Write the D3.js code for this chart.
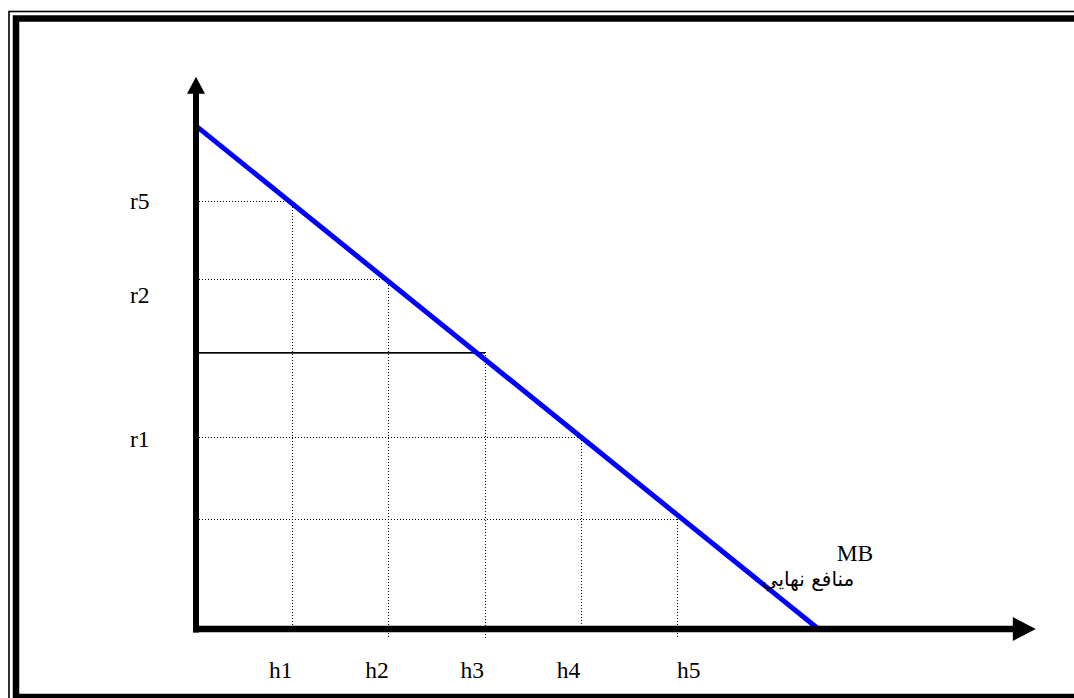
<!DOCTYPE html>
<html>
<head>
<meta charset="utf-8">
<script src="https://cdn.jsdelivr.net/npm/d3@7"></script>
<style>
  html, body { margin: 0; padding: 0; background: #fff; }
  svg { display: block; }
  .lbl { font-family: "Liberation Serif", "Times New Roman", serif; font-size: 23.5px; fill: #000; }
  .fa { font-family: "DejaVu Sans", sans-serif; font-size: 20px; fill: #000; }
</style>
</head>
<body>
<div id="chart"></div>
<script>
// quantities h1..h5 on the horizontal axis
const hLabels = ["h1", "h2", "h3", "h4", "h5"];
const hValues = [1, 2, 3, 4, 5];
const hLabelAt = [0.76, 1.76, 2.75, 3.75, 5.0];
const hTickBelow = [false, true, true, false, true];

// marginal benefit read at each h
const rLevels = [4.45, 3.64, 2.88, 2.0, 1.14];
const equilibriumIdx = 2;

// price labels on the vertical axis
const rLabels = ["r5", "r2", "r1"];
const rLabelAt = [4.45, 3.47, 1.97];

// MB line endpoints [h, r]
const mbLine = [[0, 5.23], [6.47, 0]];
const axisMax = { x: 8.73, y: 5.74 };

const W = 1074, H = 698;
const svg = d3.select("#chart").append("svg").attr("width", W).attr("height", H);

const x = d3.scaleLinear().domain([0, 5]).range([196, 677]);
const y = d3.scaleLinear().domain([0, 5]).range([629, 148]);
const px = (v) => Math.round(v) + 0.5;

// page frame (runs off right and bottom edges)
svg.append("rect").attr("x", 9).attr("y", 11.5).attr("width", 1100).attr("height", 720)
  .attr("fill", "none").attr("stroke", "#000").attr("stroke-width", 1.6);
svg.append("rect").attr("x", 16).attr("y", 18.5).attr("width", 1100).attr("height", 678.5)
  .attr("fill", "none").attr("stroke", "#000").attr("stroke-width", 6.5);

const grid = svg.append("g").attr("shape-rendering", "crispEdges");

// horizontal guides from the price axis to the MB line
grid.selectAll("line.h")
  .data(rLevels)
  .join("line")
  .attr("class", "h")
  .attr("x1", x(0)).attr("x2", (d, i) => x(hValues[i]))
  .attr("y1", (d) => px(y(d))).attr("y2", (d) => px(y(d)))
  .attr("stroke", "#000")
  .attr("stroke-width", 1)
  .attr("stroke-dasharray", (d, i) => (i === equilibriumIdx ? null : "1,2"));

grid.append("line")
  .attr("x1", x(0)).attr("x2", x(hValues[equilibriumIdx]))
  .attr("y1", px(y(rLevels[equilibriumIdx])) + 1).attr("y2", px(y(rLevels[equilibriumIdx])) + 1)
  .attr("stroke", "#555").attr("stroke-width", 1);

// vertical guides from the MB line down to the quantity axis
grid.selectAll("line.v")
  .data(hValues)
  .join("line")
  .attr("class", "v")
  .attr("x1", (d) => px(x(d))).attr("x2", (d) => px(x(d)))
  .attr("y1", (d, i) => y(rLevels[i]))
  .attr("y2", (d, i) => (hTickBelow[i] ? y(-0.1) : y(0)))
  .attr("stroke", "#000")
  .attr("stroke-width", 1)
  .attr("stroke-dasharray", "1,2");

// MB line
svg.append("path")
  .datum(mbLine)
  .attr("d", d3.line().x((d) => x(d[0])).y((d) => y(d[1])))
  .attr("stroke", "#0000ff")
  .attr("stroke-width", 5)
  .attr("fill", "none");

// axes with arrow heads
const axes = svg.append("g").attr("fill", "#000").attr("stroke", "#000");
axes.append("line")
  .attr("x1", x(0)).attr("x2", x(0)).attr("y1", y(0) + 3.5).attr("y2", y(axisMax.y) + 16)
  .attr("stroke-width", 6);
axes.append("path")
  .attr("stroke", "none")
  .attr("d", `M${x(0)},${y(axisMax.y)} L${x(0) + 9},${y(axisMax.y) + 17} L${x(0) - 9},${y(axisMax.y) + 17} Z`);
axes.append("line")
  .attr("x1", x(0) - 3).attr("x2", x(axisMax.x) - 22).attr("y1", y(0)).attr("y2", y(0))
  .attr("stroke-width", 6.5);
axes.append("path")
  .attr("stroke", "none")
  .attr("d", `M${x(axisMax.x)},${y(0)} L${x(axisMax.x) - 23},${y(0) - 12} L${x(axisMax.x) - 23},${y(0) + 12} Z`);

// labels
svg.selectAll("text.hl")
  .data(hLabels)
  .join("text")
  .attr("class", "lbl hl")
  .attr("x", (d, i) => x(hLabelAt[i]))
  .attr("y", y(0) + 49)
  .text((d) => d);

svg.selectAll("text.rl")
  .data(rLabels)
  .join("text")
  .attr("class", "lbl rl")
  .attr("x", 130)
  .attr("y", (d, i) => y(rLabelAt[i]) + 8)
  .text((d) => d);

svg.append("text").attr("class", "lbl").attr("x", 855).attr("y", 561)
  .attr("text-anchor", "middle").text("MB");
svg.append("text").attr("class", "fa").attr("x", 808).attr("y", 586)
  .attr("text-anchor", "middle").attr("direction", "rtl").text("منافع نهايي");
</script>
</body>
</html>
